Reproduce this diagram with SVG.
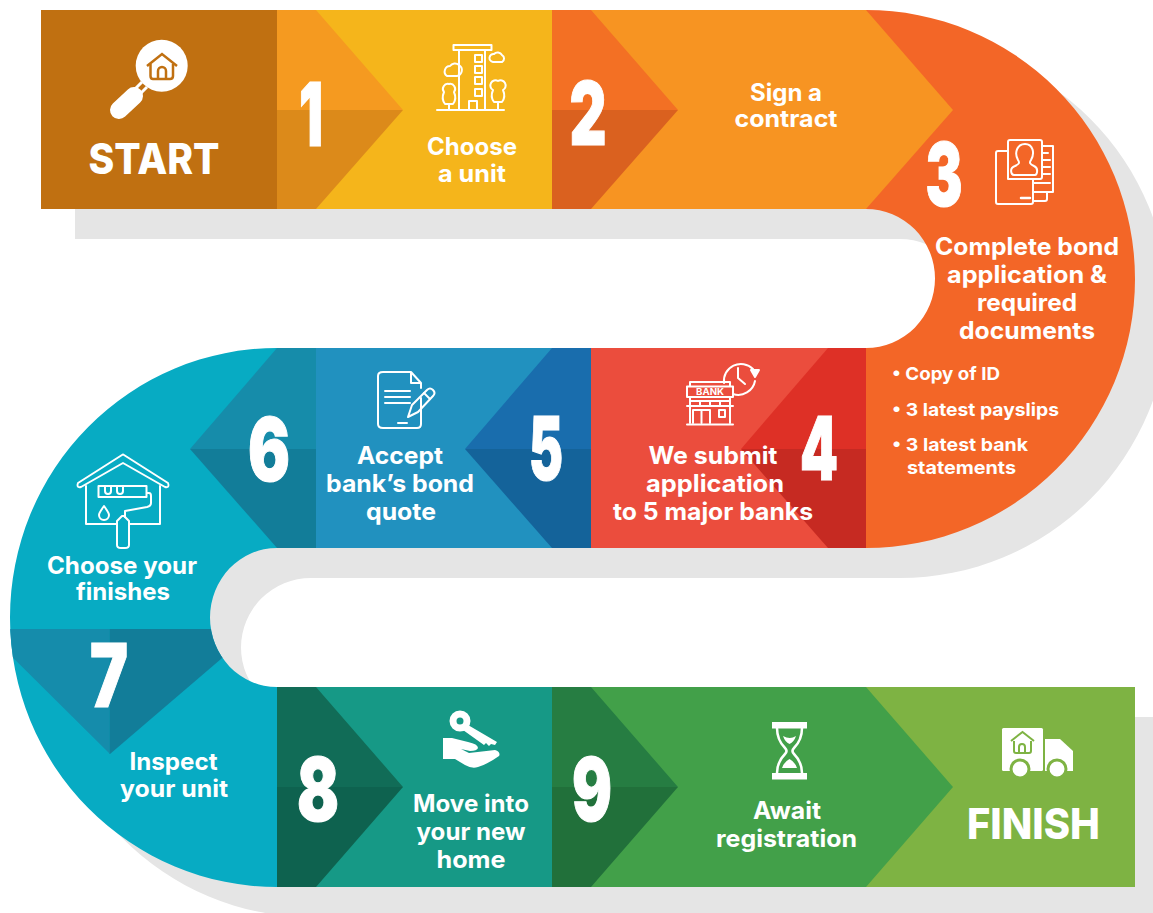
<svg xmlns="http://www.w3.org/2000/svg" width="1153" height="913" viewBox="0 0 1153 913">
<style>
text{font-family:"Inter","Open Sans","Liberation Sans",sans-serif;fill:#fff;text-anchor:middle}
.b{font-size:24px;font-weight:700}
.s{font-size:18px;font-weight:700;text-anchor:start}
.h{font-size:43px;font-weight:800}
.n{font-size:88px;font-weight:900;stroke:#fff;stroke-width:1.200}
.i{fill:none;stroke:#fff;stroke-width:2;stroke-linejoin:round;stroke-linecap:round}
.f{fill:#fff}
</style>
<defs>
<clipPath id="leftArc"><path d="M277,348A267,269.5 0 0 0 277,887V687A67,69.5 0 0 1 277,548Z"/></clipPath>
</defs>
<path id="shadow" transform="translate(34,30)" fill="#E5E5E5" d="M41,10H866A269,269 0 0 1 866,548H277A70,69.500 0 0 0 277,687H1135V887H277A267,269.5 0 0 1 277,348H866A69,69.5 0 0 0 866,209H41Z"/>

<g id="start">
<rect x="41" y="10" width="236" height="199" fill="#C07011"/>
<circle class="f" cx="161.700" cy="65.700" r="26"/>
<path d="M119,110L134,96" stroke="#fff" stroke-width="18" stroke-linecap="round"/>
<path d="M134,90L142,82M139,95L147,87" stroke="#fff" stroke-width="3"/>
<path d="M147,66L162,54L177,66" fill="none" stroke="#C07011" stroke-width="2.500"/>
<path d="M150.500,64V76Q150.500,79 153,79H170Q173,79 173,76V64M158,79V71A4,4 0 0 1 166,71V79" fill="none" stroke="#C07011" stroke-width="2.500"/>
<text class="h" x="154" y="174" textLength="131" lengthAdjust="spacingAndGlyphs">START</text>
</g>

<g id="step1">
<rect x="277" y="10" width="275" height="199" fill="#F5B51B"/>
<polygon points="277,10 316,10 403,110 277,110" fill="#F59A20"/>
<polygon points="277,110 403,110 316,209 277,209" fill="#DC8A1A"/>
<text class="n" x="311" y="146" textLength="24" lengthAdjust="spacingAndGlyphs">1</text>
<g class="i">
<path d="M437,110H504"/>
<rect x="453.500" y="45" width="38" height="5"/>
<path d="M459,50V110M485,50V110"/>
<rect x="475" y="55" width="7" height="7"/><rect x="475" y="66" width="7" height="7"/><rect x="475" y="77" width="7" height="7"/><rect x="475" y="89" width="7" height="7"/>
<path d="M469,110V101H477V110"/>
<path d="M447,76H457A6,6 0 0 0 459,65A6,6 0 0 0 450,66A5.500,5.500 0 0 0 447,76Z"/>
<path d="M493,62H502A4,4 0 0 0 502,55A5,5 0 0 0 494,54A4,4 0 0 0 493,62Z"/>
<path d="M449,84A5,5 0 0 1 454,92Q457,99 453,104H445Q441,99 444,92A5,5 0 0 1 449,84ZM449,104V110"/>
<path d="M498,81A5,5 0 0 1 503,90Q506,97 502,102H494Q490,97 493,90A5,5 0 0 1 498,81ZM498,102V110"/>
</g>
<text class="b" x="472" y="155" textLength="90" lengthAdjust="spacingAndGlyphs">Choose</text>
<text class="b" x="472" y="182" textLength="68" lengthAdjust="spacingAndGlyphs">a unit</text>
</g>

<g id="step3">
<path d="M866,10A269,269 0 0 1 866,548V348A69,69.5 0 0 0 866,209Z" fill="#F36627"/>
<text class="n" x="944" y="206" textLength="37" lengthAdjust="spacingAndGlyphs">3</text>
<g class="i" stroke-width="1.500">
<path d="M1042,146H1053V192H1033M1042,153H1048M1042,160H1050M1042,167H1050M1042,174H1050M1034,183H1050M1047,192V199Q1047,201 1045,201H1033"/>
<path d="M1007,151H998Q996,151 996,153V202Q996,204 998,204H1031Q1033,204 1033,202V179"/>
<path d="M1008,142Q1008,140 1010,140H1040Q1042,140 1042,142V177Q1042,179 1040,179H1008Z"/>
<path d="M1025,144C1033,144 1035,153 1031,160C1029,163 1030,164 1034,166C1039,168 1037,175 1035,175H1014C1011,175 1009,168 1015,166C1019,164 1020,163 1018,160C1014,153 1017,144 1025,144Z"/>
<path d="M1021,198H1030" stroke-width="2.500"/>
</g>
<text class="b" x="1027" y="255" textLength="184" lengthAdjust="spacingAndGlyphs">Complete bond</text>
<text class="b" x="1027" y="283" textLength="160" lengthAdjust="spacingAndGlyphs">application &amp;</text>
<text class="b" x="1027" y="311" textLength="100" lengthAdjust="spacingAndGlyphs">required</text>
<text class="b" x="1027" y="339" textLength="136" lengthAdjust="spacingAndGlyphs">documents</text>
<text class="s" x="892" y="380" textLength="108" lengthAdjust="spacingAndGlyphs">• Copy of ID</text>
<text class="s" x="892" y="416" textLength="167" lengthAdjust="spacingAndGlyphs">• 3 latest payslips</text>
<text class="s" x="892" y="451" textLength="136" lengthAdjust="spacingAndGlyphs">• 3 latest bank</text>
<text class="s" x="907" y="474" textLength="109" lengthAdjust="spacingAndGlyphs">statements</text>
</g>

<g id="step2">
<polygon points="552,10 866,10 953,110 866,209 552,209" fill="#F79422"/>
<polygon points="552,10 591,10 678,110 552,110" fill="#F37024"/>
<polygon points="552,110 678,110 591,209 552,209" fill="#DA611F"/>
<text class="n" x="588" y="145" textLength="37" lengthAdjust="spacingAndGlyphs">2</text>
<text class="b" x="786" y="101" textLength="72" lengthAdjust="spacingAndGlyphs">Sign a</text>
<text class="b" x="786" y="127" textLength="103" lengthAdjust="spacingAndGlyphs">contract</text>
</g>

<g id="step4">
<rect x="591" y="348" width="275" height="200" fill="#EB4D3D"/>
<polygon points="866,348 828,348 741,449 866,449" fill="#DE3026"/>
<polygon points="866,449 741,449 828,548 866,548" fill="#C62A22"/>
<text class="n" x="819" y="480" textLength="38" lengthAdjust="spacingAndGlyphs">4</text>
<g class="i" stroke-width="1.600">
<path d="M724,383A17,17 0 0 1 753,369M755,381A17,17 0 0 1 733,394M738,368V378L745,384"/>
<path d="M751,370L755,377L759,370Z" fill="#fff"/>
<rect x="687" y="386.500" width="46" height="10.500"/>
<path d="M690,386V382H730V386M690,397V401H730V397M687,406H733M690,401V423M730,401V423M700,401V406M710,401V406M720,401V406"/>
<path d="M693,423V410H710V423M701.500,410V423M719,410H725V417H719Z"/>
<path d="M687,424.500H733"/>
</g>
<text x="710" y="395" style="font-size:9px;font-weight:700" textLength="28" lengthAdjust="spacingAndGlyphs">BANK</text>
<text class="b" x="713" y="464" textLength="129" lengthAdjust="spacingAndGlyphs">We submit</text>
<text class="b" x="715" y="492" textLength="138" lengthAdjust="spacingAndGlyphs">application</text>
<text class="b" x="713" y="520" textLength="200" lengthAdjust="spacingAndGlyphs">to 5 major banks</text>
</g>

<g id="step5">
<rect x="316" y="348" width="275" height="200" fill="#2191BF"/>
<polygon points="591,348 552,348 465,449 591,449" fill="#196DAD"/>
<polygon points="591,449 465,449 552,548 591,548" fill="#14639A"/>
<text class="n" x="546" y="480" textLength="34" lengthAdjust="spacingAndGlyphs">5</text>
<g class="i" stroke-width="2.200">
<path d="M421,398V424Q421,428 417,428H383Q378,428 378,424V376Q378,372 383,372H411L421,383V388M411,372V383H421"/>
<path d="M385,391H410M385,397H410M385,403H410M398,423H407"/>
<path d="M408,417L412,405L427,390Q430,387 433,390Q436,393 433,396L418,412Z"/>
<path d="M424,393L430,399"/>
</g>
<text class="b" x="400" y="464" textLength="86" lengthAdjust="spacingAndGlyphs">Accept</text>
<text class="b" x="400" y="492" textLength="148" lengthAdjust="spacingAndGlyphs">bank’s bond</text>
<text class="b" x="401" y="520" textLength="70" lengthAdjust="spacingAndGlyphs">quote</text>
</g>

<g id="step7">
<path d="M277,348A267,269.5 0 0 0 277,887V687A67,69.5 0 0 1 277,548Z" fill="#07ABC3"/>
<g clip-path="url(#leftArc)">
<polygon points="-16,629 109.500,629 109.500,754 110,754" fill="#158CAB"/>
<polygon points="109.500,629 256,629 110,754 109.500,754" fill="#127D99"/>
</g>
<text class="n" x="109" y="707" textLength="38" lengthAdjust="spacingAndGlyphs">7</text>
<text class="b" x="173.500" y="770" textLength="88" lengthAdjust="spacingAndGlyphs">Inspect</text>
<text class="b" x="174" y="797" textLength="108" lengthAdjust="spacingAndGlyphs">your unit</text>
</g>

<g id="step6">
<polygon points="316,348 277,348 190,449 316,449" fill="#168CAA"/>
<polygon points="316,449 190,449 277,548 316,548" fill="#127D99"/>
<text class="n" x="269" y="481" textLength="42" lengthAdjust="spacingAndGlyphs">6</text>
<g class="i">
<path d="M122,455L78,483Q76,488 81,487L123,463L165,487Q170,488 168,483L124,455Q123,454 122,455Z"/>
<path d="M86,486V524H116M129,524H160V486"/>
<rect x="98.500" y="486" width="48" height="11"/>
<path d="M105,487V491A3,3 0 0 0 111,491V487M117,487V491A3,3 0 0 0 123,491V487"/>
<path d="M147,493H149Q151,493 151,496V503Q151,506 147,507L125,511V517"/>
<path d="M117,521L122,516H124L129,521V545Q129,548 125,548H121Q117,548 117,545Z"/>
<path d="M104,506Q109,513 109,515A5,5 0 0 1 99,515Q99,513 104,506Z"/>
</g>
<text class="b" x="122" y="574" textLength="150" lengthAdjust="spacingAndGlyphs">Choose your</text>
<text class="b" x="123" y="600" textLength="94" lengthAdjust="spacingAndGlyphs">finishes</text>
</g>

<g id="step8">
<rect x="277" y="687" width="275" height="200" fill="#169986"/>
<polygon points="277,687 316,687 403,787 277,787" fill="#116C57"/>
<polygon points="277,787 403,787 316,887 277,887" fill="#0E624F"/>
<text class="n" x="318" y="821" textLength="42" lengthAdjust="spacingAndGlyphs">8</text>
<circle cx="460" cy="721" r="7" fill="none" stroke="#fff" stroke-width="7"/>
<path d="M468,725L497,742L495,745L491,744L489,746L486,743L484,745L463,730Z" class="f"/>
<path d="M443,738H452Q460,740 468,742Q478,744 478,748Q477,751 470,751L461,749L469,753L495,750Q501,752 499,756Q488,764 478,767Q472,769 465,765L455,759H443Z" class="f"/>
<text class="b" x="471" y="812" textLength="116" lengthAdjust="spacingAndGlyphs">Move into</text>
<text class="b" x="471" y="840" textLength="109" lengthAdjust="spacingAndGlyphs">your new</text>
<text class="b" x="471" y="868" textLength="69" lengthAdjust="spacingAndGlyphs">home</text>
</g>

<g id="finish">
<polygon points="866,687 1135,687 1135,887 866,887" fill="#7EB343"/>
<rect class="f" x="1002" y="728" width="41" height="43" rx="1.500"/>
<path class="f" d="M1045,739H1060L1073,751V771H1045Z"/>
<circle cx="1020" cy="769" r="9" class="f" stroke="#7EB343" stroke-width="3"/>
<circle cx="1057" cy="769" r="9" class="f" stroke="#7EB343" stroke-width="3"/>
<path d="M1011,741L1022.500,732L1034,741" fill="none" stroke="#7EB343" stroke-width="2"/>
<path d="M1014,741V751Q1014,753 1016,753H1029Q1031,753 1031,751V741M1019,753V747A3,3 0 0 1 1025,747V753" fill="none" stroke="#7EB343" stroke-width="2"/>
<text class="h" x="1033.500" y="839" textLength="133" lengthAdjust="spacingAndGlyphs">FINISH</text>
</g>

<g id="step9">
<polygon points="552,687 866,687 953,787 866,887 552,887" fill="#42A049"/>
<polygon points="552,687 591,687 678,787 552,787" fill="#267D42"/>
<polygon points="552,787 678,787 591,887 552,887" fill="#21703A"/>
<text class="n" x="592" y="821" textLength="40" lengthAdjust="spacingAndGlyphs">9</text>
<rect class="f" x="772" y="722" width="35" height="6.500"/>
<rect class="f" x="772" y="773" width="35" height="6.500"/>
<path d="M777,728Q777,740 785,748Q788,751 785,754Q777,762 777,773M802,728Q802,740 794,748Q791,751 794,754Q802,762 802,773" fill="none" stroke="#fff" stroke-width="2.500"/>
<path class="f" d="M783,736Q790,740 796,736Q794,742 789.500,744Q785,742 783,736Z"/>
<path class="f" d="M782,768Q784,762 789.500,759Q795,762 797,768Z"/>
<text class="b" x="787" y="819" textLength="68" lengthAdjust="spacingAndGlyphs">Await</text>
<text class="b" x="786.500" y="847" textLength="141" lengthAdjust="spacingAndGlyphs">registration</text>
</g>
</svg>
